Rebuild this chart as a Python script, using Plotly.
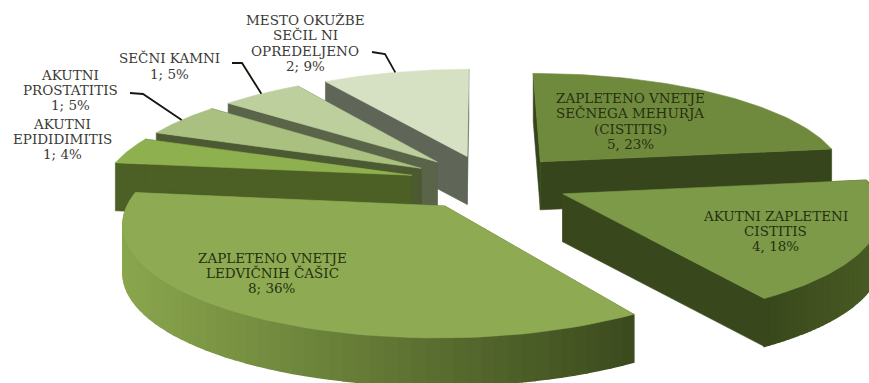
import numpy as np
import plotly.graph_objects as go

# Urinary tract infection sites: case counts and shares, clockwise from the top
names = [
    ["ZAPLETENO VNETJE", "SEČNEGA MEHURJA", "(CISTITIS)"],
    ["AKUTNI ZAPLETENI", "CISTITIS"],
    ["ZAPLETENO VNETJE", "LEDVIČNIH ČAŠIC"],
    ["AKUTNI", "EPIDIDIMITIS"],
    ["AKUTNI", "PROSTATITIS"],
    ["SEČNI KAMNI"],
    ["MESTO OKUŽBE", "SEČIL NI", "OPREDELJENO"],
]
counts = [5, 4, 8, 1, 1, 1, 2]
shares = [23, 18, 36, 4, 5, 5, 9]
separators = [", ", ", ", "; ", "; ", "; ", "; ", "; "]

top_colors = ["#708a3d", "#7c9a48", "#8eab53", "#8fb04e", "#a9c080", "#bccf9d", "#d6e0c2"]
wall_colors = ["#36451b", "#39481c", "#5d7130", "#4c5f25", "#4b5a33", "#596448", "#5f6658"]
rim_left = ["#36451b", "#39481c", "#8aa64d", "#4c5f25", "#4b5a33", "#596448", "#5f6658"]
rim_right = ["#36451b", "#4a5c24", "#3b4a1d", "#4c5f25", "#4b5a33", "#596448", "#5f6658"]

# Centre of the label block for each slice and its line height
label_anchor = [(630, 121), (775, 231), (272, 273), (62, 139), (70, 90), (169, 66), (305, 43)]
line_height = 15.2
font_px = 13.5
label_colors = ["#263010", "#263010", "#263010", "#3a3a36", "#3a3a36", "#3a3a36", "#3a3a36"]
leader_start = {4: (130, 93), 5: (232, 63), 6: (372, 52)}
leader_knee = {4: (143, 94), 5: (242, 63), 6: (385, 54)}

# Perspective view of the exploded pie
CX, CY = 489, 182
SCALE_X, SCALE_Y = 308, 106
PERSPECTIVE = 0.14
THICKNESS = 48
EXPLODE = 0.26
START_DEG = -0.2


def project(x, y, z=0.0):
    w = 1 + PERSPECTIVE * y
    return CX + SCALE_X * x / w, CY - SCALE_Y * y / w + THICKNESS * z


def mix(c1, c2, t):
    a = [int(c1[i:i + 2], 16) for i in (1, 3, 5)]
    b = [int(c2[i:i + 2], 16) for i in (1, 3, 5)]
    return "rgb({},{},{})".format(*[round(p + (q - p) * t) for p, q in zip(a, b)])


fig = go.Figure()


def add_poly(xs, ys, color, edge=0.6):
    fig.add_trace(go.Scatter(
        x=list(xs) + [xs[0]], y=list(ys) + [ys[0]], mode="lines", fill="toself",
        fillcolor=color, line=dict(color=color, width=edge), hoverinfo="skip", showlegend=False,
    ))


edges = START_DEG + np.cumsum([0] + shares) * 3.6
slices = []
for i in range(len(shares)):
    a0, a1 = np.radians(edges[i]), np.radians(edges[i + 1])
    mid = (a0 + a1) / 2
    slices.append(dict(i=i, a0=a0, a1=a1, mid=mid,
                       ox=EXPLODE * np.sin(mid), oy=EXPLODE * np.cos(mid)))

# Paint from the back of the scene forward
paint_order = [6, 5, 4, 3, 0, 1, 2]
for i in paint_order:
    s = slices[i]
    theta = np.linspace(s["a0"], s["a1"], 61)
    rx = s["ox"] + np.sin(theta)
    ry = s["oy"] + np.cos(theta)

    # Radial walls
    for a in (s["a0"], s["a1"]):
        ex, ey = s["ox"] + np.sin(a), s["oy"] + np.cos(a)
        pts = [project(s["ox"], s["oy"]), project(ex, ey), project(ex, ey, 1), project(s["ox"], s["oy"], 1)]
        add_poly([p[0] for p in pts], [p[1] for p in pts], wall_colors[i])

    # Outer rim, shaded in strips from left to right on screen; back-facing strips are skipped
    px, py = project(rx, ry)
    qx, qy = project(rx, ry, 1)
    xmin, xmax = min(px.min(), qx.min()), max(px.max(), qx.max())
    for k in range(len(theta) - 1):
        if np.cos(theta[k]) > 0.12 and np.cos(theta[k + 1]) > 0.12:
            continue
        t = ((px[k] + px[k + 1]) / 2 - xmin) / max(xmax - xmin, 1)
        add_poly([px[k], px[k + 1], qx[k + 1], qx[k]], [py[k], py[k + 1], qy[k + 1], qy[k]],
                 mix(rim_left[i], rim_right[i], t), edge=1.4)

    # Top face
    ax, ay = project(s["ox"], s["oy"])
    add_poly([ax] + list(px), [ay] + list(py), top_colors[i])

# Leader lines run from the label to the slice's outer edge
for i, start in leader_start.items():
    s = slices[i]
    ex, ey = project(s["ox"] + np.sin(s["mid"]), s["oy"] + np.cos(s["mid"]))
    fig.add_trace(go.Scatter(
        x=[start[0], leader_knee[i][0], ex], y=[start[1], leader_knee[i][1], ey],
        mode="lines", line=dict(color="#15180f", width=1.8), hoverinfo="skip", showlegend=False,
    ))

# Labels, one annotation per line to hold the tight line spacing
for i in range(len(names)):
    lines = names[i] + [f"{counts[i]}{separators[i]}{shares[i]}%"]
    cx, cy = label_anchor[i]
    for n, text in enumerate(lines):
        fig.add_annotation(
            x=cx, y=cy + (n - (len(lines) - 1) / 2) * line_height, text=text, showarrow=False,
            xanchor="center", yanchor="middle",
            font=dict(family="DejaVu Serif", size=font_px, color=label_colors[i]),
        )

fig.update_layout(
    width=869, height=383, margin=dict(l=0, r=0, t=0, b=0),
    paper_bgcolor="white", plot_bgcolor="white", showlegend=False,
    xaxis=dict(range=[0, 869], visible=False, fixedrange=True),
    yaxis=dict(range=[383, 0], visible=False, fixedrange=True),
)
fig.write_html("out.html", config={"displayModeBar": False})
